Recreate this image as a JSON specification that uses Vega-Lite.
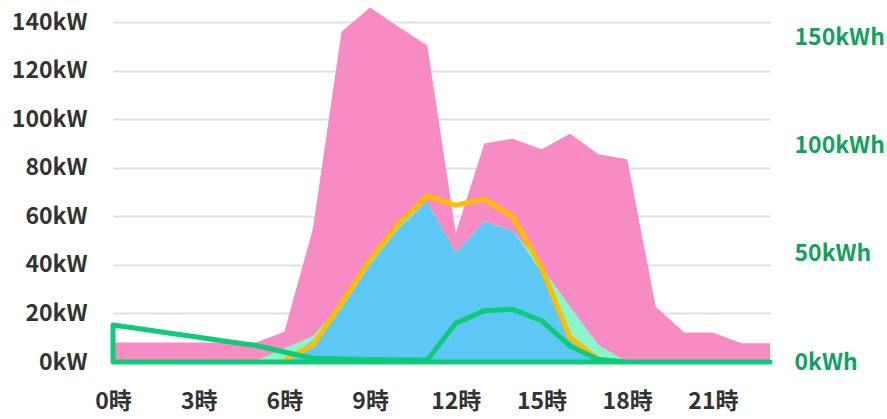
{
  "$schema": "https://vega.github.io/schema/vega-lite/v6.json",
  "autosize": "none",
  "width": 657,
  "height": 354,
  "padding": {"left": 113, "top": 8, "right": 117, "bottom": 57},
  "background": "white",
  "config": {
    "view": {"stroke": null},
    "axis": {
      "labelFont": "Noto Sans CJK JP",
      "labelFontWeight": "bold",
      "labelFontSize": 23,
      "labelColor": "#333333",
      "domain": false,
      "ticks": false,
      "title": null
    }
  },
  "data": {
    "values": [
      {"h": 0, "demand": 8, "pv": 0, "self": 0, "fc": null, "soc": 17.1},
      {"h": 1, "demand": 8, "pv": 0, "self": 0, "fc": null, "soc": 15.2},
      {"h": 2, "demand": 8, "pv": 0, "self": 0, "fc": null, "soc": 13.3},
      {"h": 3, "demand": 8, "pv": 0, "self": 0, "fc": null, "soc": 11.4},
      {"h": 4, "demand": 8, "pv": 0, "self": 0, "fc": null, "soc": 9.5},
      {"h": 5, "demand": 8, "pv": 0.5, "self": 0, "fc": null, "soc": 7.6},
      {"h": 6, "demand": 12.5, "pv": 5.7, "self": 0, "fc": 0.8, "soc": 4.6},
      {"h": 7, "demand": 55, "pv": 10.7, "self": 9, "fc": 7, "soc": 1.7},
      {"h": 8, "demand": 136, "pv": 24, "self": 22, "fc": 24, "soc": 1.4},
      {"h": 9, "demand": 146, "pv": 41, "self": 40, "fc": 42, "soc": 1.2},
      {"h": 10, "demand": 138, "pv": 56, "self": 55, "fc": 57, "soc": 1.0},
      {"h": 11, "demand": 130.5, "pv": 66, "self": 66, "fc": 68.3, "soc": 0.9},
      {"h": 12, "demand": 53, "pv": 45, "self": 44.8, "fc": 64.6, "soc": 17.9},
      {"h": 13, "demand": 90, "pv": 58, "self": 57.8, "fc": 67.1, "soc": 23.7},
      {"h": 14, "demand": 92, "pv": 54, "self": 53.9, "fc": 59.8, "soc": 24.3},
      {"h": 15, "demand": 87.6, "pv": 39.5, "self": 37, "fc": 39, "soc": 19.1},
      {"h": 16, "demand": 94, "pv": 22.8, "self": 9, "fc": 10.2, "soc": 7.4},
      {"h": 17, "demand": 85.6, "pv": 7, "self": 0.5, "fc": 1, "soc": 1.2},
      {"h": 18, "demand": 83.5, "pv": 0, "self": 0, "fc": null, "soc": 0},
      {"h": 19, "demand": 22.8, "pv": 0, "self": 0, "fc": null, "soc": 0},
      {"h": 20, "demand": 12.2, "pv": 0, "self": 0, "fc": null, "soc": 0},
      {"h": 21, "demand": 12.2, "pv": 0, "self": 0, "fc": null, "soc": 0},
      {"h": 22, "demand": 7.7, "pv": 0, "self": 0, "fc": null, "soc": 0},
      {"h": 23, "demand": 7.7, "pv": 0, "self": 0, "fc": null, "soc": 0}
    ]
  },
  "encoding": {
    "x": {
      "field": "h",
      "type": "quantitative",
      "scale": {"domain": [0, 23], "nice": false, "zero": false},
      "axis": {
        "values": [0, 3, 6, 9, 12, 15, 18, 21],
        "labelExpr": "datum.value + '時'",
        "grid": false,
        "labelPadding": 28,
        "labelFlush": false
      }
    }
  },
  "layer": [
    {
      "layer": [
        {
          "mark": {"type": "area", "color": "#F68CC3", "opacity": 1},
          "encoding": {
            "y": {
              "field": "demand",
              "type": "quantitative",
              "scale": {"domain": [0, 145.8], "nice": false},
              "axis": {
                "orient": "left",
                "values": [0, 20, 40, 60, 80, 100, 120, 140],
                "labelExpr": "datum.value + 'kW'",
                "grid": true,
                "gridColor": "#e0e0e0",
                "gridWidth": 2,
                "labelPadding": 26
              }
            }
          }
        },
        {
          "mark": {"type": "area", "color": "#8CF6CB", "opacity": 1},
          "encoding": {"y": {"field": "pv", "type": "quantitative"}}
        },
        {
          "mark": {"type": "area", "color": "#5DC8F6", "opacity": 1},
          "encoding": {"y": {"field": "self", "type": "quantitative"}}
        },
        {
          "mark": {"type": "line", "color": "#FFBE00", "strokeWidth": 5, "strokeJoin": "round"},
          "encoding": {"y": {"field": "fc", "type": "quantitative"}}
        }
      ]
    },
    {
      "mark": {"type": "area", "fillOpacity": 0, "fill": "white", "stroke": "#0FCB79", "strokeWidth": 5, "strokeJoin": "round"},
      "encoding": {
        "y": {
          "field": "soc",
          "type": "quantitative",
          "scale": {"domain": [0, 163.4], "nice": false},
          "axis": {
            "orient": "right",
            "values": [0, 50, 100, 150],
            "labelExpr": "datum.value + 'kWh'",
            "grid": false,
            "labelColor": "#13A15E",
            "labelPadding": 24
          }
        }
      }
    }
  ],
  "resolve": {"scale": {"y": "independent"}}
}
